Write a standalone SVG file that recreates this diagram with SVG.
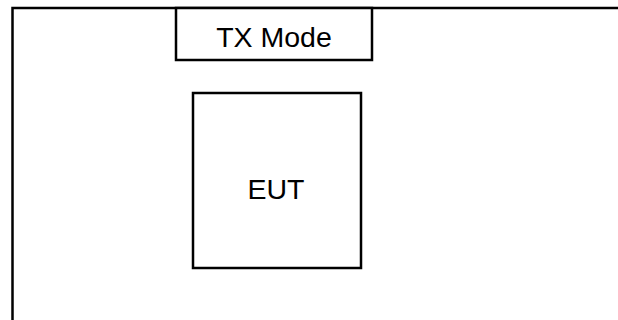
<svg xmlns="http://www.w3.org/2000/svg" width="618" height="320" viewBox="0 0 618 320">
<style>
.ln{stroke:#000;stroke-width:2.5;fill:none}
.bx{stroke:#000;stroke-width:2.5;fill:#fff}
.tx{font-family:"Liberation Sans",Arial,sans-serif;font-size:28.5px;fill:#000;text-anchor:middle}
</style>
<rect width="618" height="320" fill="#fff"/>
<g id="frame">
<path class="ln" d="M12.5,320 V8 H618"/>
</g>
<g id="connectors"></g>
<g id="tx-mode">
<rect class="bx" x="176" y="8" width="196" height="52"/>
<text class="tx" x="274" y="47">TX Mode</text>
</g>
<g id="eut">
<rect class="bx" x="193" y="93" width="168" height="175"/>
<text class="tx" x="276" y="199">EUT</text>
</g>
</svg>
